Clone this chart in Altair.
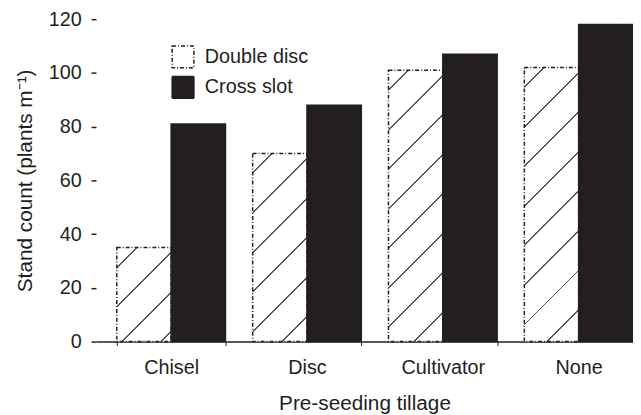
import altair as alt
import pandas as pd

categories = ["Chisel", "Disc", "Cultivator", "None"]
drills = ["Double disc", "Cross slot"]
double_disc = [35, 70, 101, 102]
cross_slot = [81, 88, 107, 118]
y_ticks = [0, 20, 40, 60, 80, 100, 120]

rows = []
for c, v in zip(categories, double_disc):
    rows.append({"Tillage": c, "Drill": drills[0], "Count": v})
for c, v in zip(categories, cross_slot):
    rows.append({"Tillage": c, "Drill": drills[1], "Count": v})
df = pd.DataFrame(rows)

FONT = "Liberation Sans"
INK = "#231f20"

W, H = 543, 326
PAD_IN, PAD_OUT = 0.2, 0.0765

# hatch gradient (45 degree lines) for the double-disc bars
step = W / (len(categories) - PAD_IN + 2 * PAD_OUT)
bw = step * (1 - PAD_IN) / 2          # pixel width of one bar
ppu = H / 120.0                       # pixels per unit on y
N, P, LW = 14, 40.0, 0.05             # stripes, period (px along x+y), line fraction
stops = []
for i in range(N):
    a = i / N
    c0 = a + (0.5 - LW / 2) / N
    c1 = a + (0.5 + LW / 2) / N
    stops += [(a, "white"), (c0, "white"), (c0, "#555555"), (c1, "#555555"), (c1, "white")]
stops.append((1.0, "white"))
stops_expr = "[" + ",".join("{offset:%.5f,color:'%s'}" % s for s in stops) + "]"
hpx = "(datum.Count*%.5f)" % ppu
den = "(%.4f + %s*%s)" % (bw * bw, hpx, hpx)
hatch_expr = (
    "{gradient:'linear', x1:0, y1:0, "
    "x2: %.4f/%s, y2: %.4f*%s/%s, stops:%s}"
    % (N * P * bw, den, N * P, hpx, den, stops_expr)
)

legend = alt.Legend(
    title=None, orient="none", legendX=76, legendY=26,
    symbolType="square", symbolSize=484, symbolStrokeColor=INK,
    symbolStrokeWidth=1.5, labelFontSize=20, labelFont=FONT,
    labelColor=INK, labelOffset=10, rowPadding=3,
)

x_enc = alt.X(
    "Tillage:N", sort=categories,
    scale=alt.Scale(paddingInner=PAD_IN, paddingOuter=PAD_OUT, align=1),
    axis=alt.Axis(
        title="Pre-seeding tillage", labelAngle=0, tickBand="extent",
        tickSize=4, labelPadding=12, labelFontSize=20, labelFont=FONT,
        labelColor=INK, titleFontSize=21, titleFont=FONT,
        titleFontWeight="normal", titleColor=INK, titlePadding=16,
        domainColor=INK, domainWidth=1.5, tickColor=INK,
    ),
)
y_enc = alt.Y(
    "Count:Q", scale=alt.Scale(domain=[0, 120]),
    axis=alt.Axis(
        title="Stand count (plants m⁻¹)", values=y_ticks, domain=False,
        grid=False, tickSize=5, labelPadding=10, labelFontSize=20,
        labelFont=FONT, labelColor=INK, titleFontSize=21, titleFont=FONT,
        titleFontWeight="normal", titleColor=INK, titlePadding=13,
        tickColor=INK, tickWidth=1.5,
    ),
)
xo_enc = alt.XOffset("Drill:N", sort=drills, scale=alt.Scale(domain=drills))

hatch = alt.Chart(df).transform_filter(
    alt.datum.Drill == drills[0]
).transform_calculate(
    hatch=hatch_expr
).mark_bar(strokeWidth=0).encode(
    x=x_enc, xOffset=xo_enc, y=y_enc,
    color=alt.Color("hatch:N", scale=None, legend=None),
)

bars = alt.Chart(df).mark_bar(strokeWidth=1.5).encode(
    x=x_enc, xOffset=xo_enc, y=y_enc,
    fill=alt.Fill("Drill:N", sort=drills,
                  scale=alt.Scale(domain=drills, range=["transparent", INK]),
                  legend=legend),
    stroke=alt.Stroke("Drill:N", sort=drills,
                      scale=alt.Scale(domain=drills, range=[INK, INK]),
                      legend=legend),
    strokeDash=alt.StrokeDash("Drill:N", sort=drills,
                              scale=alt.Scale(domain=drills, range=[[4, 2, 1, 2], [1, 0]]),
                              legend=legend),
)

chart = alt.layer(hatch, bars).properties(
    width=W, height=H,
    autosize=alt.AutoSizeParams(type="none"),
    padding={"left": 89, "top": 9, "right": 0, "bottom": 80},
).configure_view(stroke=None).configure_axis(grid=False)

chart.save("out.html", embed_options={"renderer": "svg", "actions": False})
